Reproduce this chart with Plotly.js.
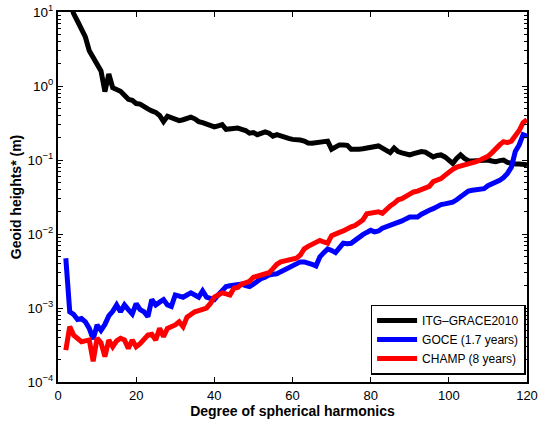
<!DOCTYPE html>
<html>
<head>
<meta charset="utf-8">
<script src="https://cdn.plot.ly/plotly-3.0.1.min.js"></script>
<style>html,body{margin:0;padding:0;background:#fff;}#chart{width:538px;height:423px;}</style>
</head>
<body>
<div id="chart"></div>
<script>
// Degrees (x) shared by all series
const degrees = [];
for (let n = 2; n <= 120; n++) degrees.push(n);

// ITG-GRACE2010 (black), degrees 2..120
const itgGrace = [
  20, 13, 9.5, 7.5, 6.0, 4.6, 3.0, 2.4, 1.9, 1.6,
  0.84, 1.45, 0.95, 0.9, 0.85, 0.75, 0.66, 0.64, 0.58, 0.57,
  0.52, 0.49, 0.46, 0.44, 0.40, 0.33, 0.39, 0.37, 0.36, 0.34,
  0.35, 0.37, 0.38, 0.36, 0.33, 0.32, 0.31, 0.29, 0.28, 0.29,
  0.30, 0.26, 0.265, 0.27, 0.27, 0.26, 0.25, 0.23, 0.235, 0.22,
  0.23, 0.24, 0.23, 0.21, 0.22, 0.21, 0.20, 0.196, 0.19, 0.19,
  0.186, 0.18, 0.17, 0.168, 0.172, 0.177, 0.178, 0.18, 0.14, 0.15,
  0.16, 0.16, 0.158, 0.14, 0.138, 0.14, 0.142, 0.145, 0.148, 0.152,
  0.155, 0.145, 0.132, 0.126, 0.145, 0.13, 0.125, 0.12, 0.117, 0.122,
  0.126, 0.13, 0.128, 0.118, 0.11, 0.115, 0.117, 0.11, 0.1, 0.09,
  0.105, 0.117, 0.105, 0.098, 0.097, 0.098, 0.1, 0.1, 0.1, 0.097,
  0.095, 0.098, 0.1, 0.093, 0.09, 0.088, 0.088, 0.087, 0.086
];

// GOCE (1.7 years) (blue), degrees 2..120
const goce = [
  4.7e-3, 8.9e-4, 8.2e-4, 7.0e-4, 7.2e-4, 6.5e-4, 5.3e-4, 3.8e-4, 5.9e-4, 5.0e-4,
  6.0e-4, 7.8e-4, 9.0e-4, 1.1e-3, 8.9e-4, 1.1e-3, 9.5e-4, 8.3e-4, 1.15e-3, 9.5e-4,
  8.9e-4, 7.6e-4, 1.3e-3, 1.1e-3, 1.2e-3, 1.3e-3, 1.1e-3, 1.05e-3, 1.5e-3, 1.45e-3,
  1.4e-3, 1.5e-3, 1.6e-3, 1.5e-3, 1.4e-3, 1.7e-3, 1.4e-3, 1.35e-3, 1.3e-3, 1.5e-3,
  1.7e-3, 1.95e-3, 2.0e-3, 2.05e-3, 2.1e-3, 2.1e-3, 2.0e-3, 1.95e-3, 2.1e-3, 2.3e-3,
  2.5e-3, 2.6e-3, 2.8e-3, 2.85e-3, 2.9e-3, 3.1e-3, 3.3e-3, 3.5e-3, 3.7e-3, 3.9e-3,
  4.2e-3, 4.2e-3, 4.1e-3, 3.9e-3, 3.7e-3, 4.9e-3, 5.6e-3, 6.3e-3, 6.0e-3, 5.6e-3,
  6.5e-3, 7.5e-3, 7.4e-3, 7.5e-3, 8.2e-3, 9.2e-3, 9.8e-3, 1.05e-2, 1.12e-2, 1.07e-2,
  1.1e-2, 1.2e-2, 1.25e-2, 1.3e-2, 1.35e-2, 1.4e-2, 1.5e-2, 1.6e-2, 1.7e-2, 1.7e-2,
  1.7e-2, 1.85e-2, 2.0e-2, 2.1e-2, 2.2e-2, 2.35e-2, 2.5e-2, 2.55e-2, 2.6e-2, 2.7e-2,
  2.9e-2, 3.2e-2, 3.6e-2, 3.8e-2, 3.9e-2, 4.0e-2, 4.05e-2, 4.1e-2, 4.5e-2, 4.7e-2,
  5.0e-2, 5.3e-2, 5.8e-2, 6.6e-2, 8.0e-2, 0.13, 0.16, 0.22, 0.21
];

// CHAMP (8 years) (red), degrees 2..120
const champ = [
  2.7e-4, 5.6e-4, 4.3e-4, 3.8e-4, 3.5e-4, 3.6e-4, 3.7e-4, 1.9e-4, 3.9e-4, 3.4e-4,
  2.2e-4, 3.7e-4, 3.0e-4, 3.6e-4, 3.9e-4, 3.7e-4, 2.85e-4, 3.7e-4, 3.0e-4, 3.3e-4,
  3.7e-4, 4.3e-4, 4.4e-4, 3.7e-4, 5.3e-4, 4.1e-4, 5.3e-4, 5.5e-4, 5.9e-4, 6.5e-4,
  5.6e-4, 7.5e-4, 8.3e-4, 8.9e-4, 9.2e-4, 9.5e-4, 1.0e-3, 1.15e-3, 1.4e-3, 1.5e-3,
  1.6e-3, 1.55e-3, 1.5e-3, 1.85e-3, 1.9e-3, 2.1e-3, 2.2e-3, 2.3e-3, 2.6e-3, 2.7e-3,
  2.8e-3, 2.9e-3, 3.0e-3, 3.4e-3, 3.9e-3, 4.2e-3, 4.3e-3, 4.5e-3, 4.5e-3, 4.7e-3,
  5.2e-3, 6.3e-3, 6.8e-3, 7.3e-3, 7.8e-3, 8.2e-3, 7.8e-3, 7.5e-3, 9.5e-3, 1.02e-2,
  1.05e-2, 1.1e-2, 1.2e-2, 1.25e-2, 1.3e-2, 1.45e-2, 1.55e-2, 1.87e-2, 1.9e-2, 2.0e-2,
  2.0e-2, 1.9e-2, 2.2e-2, 2.4e-2, 2.6e-2, 2.9e-2, 3.0e-2, 3.2e-2, 3.5e-2, 3.7e-2,
  3.8e-2, 4.0e-2, 4.2e-2, 4.4e-2, 5.1e-2, 5.4e-2, 5.6e-2, 6.2e-2, 6.9e-2, 7.5e-2,
  8.0e-2, 8.3e-2, 8.5e-2, 8.6e-2, 9.0e-2, 9.5e-2, 0.1, 0.105, 0.112, 0.125,
  0.144, 0.16, 0.177, 0.172, 0.18, 0.21, 0.25, 0.32, 0.35
];

const seriesNames = ['ITG\u2013GRACE2010', 'GOCE (1.7 years)', 'CHAMP (8 years)'];
const xTickVals = [0, 20, 40, 60, 80, 100, 120];
const yTickVals = [1e-4, 1e-3, 1e-2, 1e-1, 1e0, 1e1];
const yTickText = ['10<sup>\u22124</sup>', '10<sup>\u22123</sup>', '10<sup>\u22122</sup>', '10<sup>\u22121</sup>', '10<sup>0</sup>', '10<sup>1</sup>'];
const yMinorVals = [];
for (let e = -4; e < 1; e++) for (let m = 2; m <= 9; m++) yMinorVals.push(m * Math.pow(10, e));

const FONT = 'Liberation Sans, Arial, Helvetica, sans-serif';

const traces = [
  {x: degrees, y: itgGrace, name: seriesNames[0], mode: 'lines', line: {color: '#000000', width: 5}},
  {x: degrees, y: goce, name: seriesNames[1], mode: 'lines', line: {color: '#0000ff', width: 5}},
  {x: degrees, y: champ, name: seriesNames[2], mode: 'lines', line: {color: '#ff0000', width: 5}}
];

const layout = {
  width: 538, height: 423,
  margin: {l: 58, r: 11, t: 12, b: 41, pad: 0},
  paper_bgcolor: '#ffffff', plot_bgcolor: '#ffffff',
  font: {family: FONT, size: 13, color: '#000'},
  showlegend: true,
  legend: {
    x: 0.997, y: 0.02, xanchor: 'right', yanchor: 'bottom',
    bgcolor: '#ffffff', bordercolor: '#000', borderwidth: 1.5,
    font: {family: FONT, size: 12, color: '#000'},
    tracegroupgap: 0, itemwidth: 40
  },
  xaxis: {
    range: [0, 120], tickmode: 'array', tickvals: xTickVals,
    ticks: 'inside', ticklen: 5, tickwidth: 1, tickcolor: '#000',
    showline: true, linecolor: '#000', linewidth: 2, mirror: 'ticks',
    showgrid: false, zeroline: false,
    tickfont: {family: FONT, size: 13, color: '#000'},
    title: {text: '<b>Degree of spherical harmonics</b>', font: {family: FONT, size: 14, color: '#000'}, standoff: 4}
  },
  yaxis: {
    type: 'log', range: [-4, 1], tickmode: 'array', tickvals: yTickVals, ticktext: yTickText,
    ticks: 'inside', ticklen: 5, tickwidth: 1, tickcolor: '#000',
    minor: {tickmode: 'array', tickvals: yMinorVals, ticks: 'inside', ticklen: 3, tickcolor: '#000', tickwidth: 1, showgrid: false},
    showline: true, linecolor: '#000', linewidth: 2, mirror: 'ticks',
    showgrid: false, zeroline: false,
    tickfont: {family: FONT, size: 13.5, color: '#000'},
    title: {text: '<b>Geoid heights* (m)</b>', font: {family: FONT, size: 14, color: '#000'}, standoff: 3}
  }
};

Plotly.newPlot('chart', traces, layout, {displayModeBar: false, staticPlot: true});
</script>
</body>
</html>
